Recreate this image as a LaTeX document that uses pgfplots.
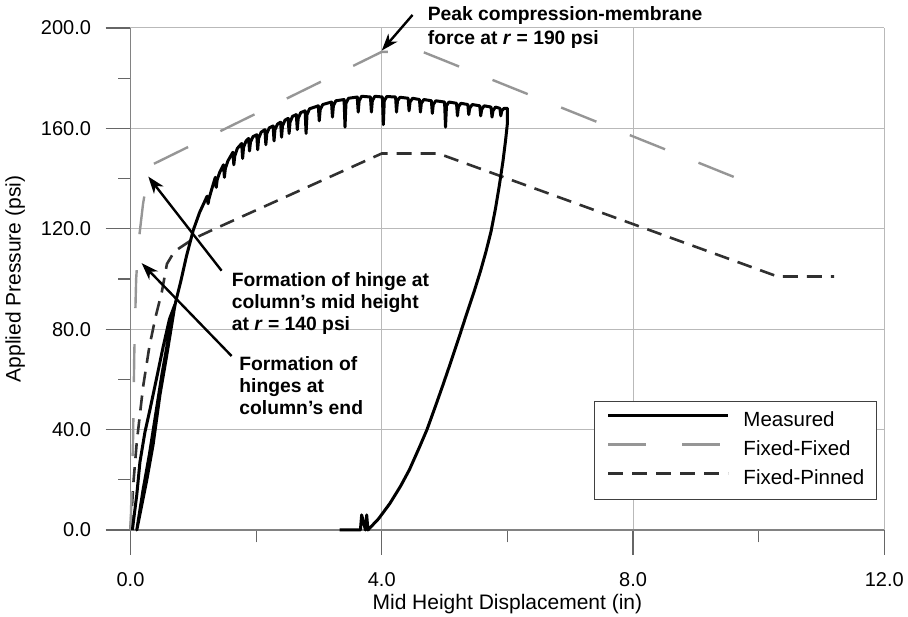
\documentclass[border=0pt]{standalone}
\usepackage{fontspec}
\setmainfont{Liberation Sans}
\usepackage{pgfplots}
\pgfplotsset{compat=1.18}
\usetikzlibrary{arrows.meta}
\definecolor{ffgray}{RGB}{150,150,150}
\definecolor{fpgray}{RGB}{48,48,48}
\definecolor{gridgray}{RGB}{185,185,185}
\definecolor{axgray}{RGB}{130,130,130}
\begin{document}
\begin{tikzpicture}
\path[use as bounding box] (-130.5pt,-87pt) rectangle (777.5pt,530pt);
\begin{axis}[
  at={(0pt,0pt)}, anchor=south west,
  scale only axis, width=753.8pt, height=502pt,
  xmin=0, xmax=12, ymin=0, ymax=200,
  axis lines=left, axis line style={-, draw=axgray, line width=1.2pt},
  xtick={0,4,8,12}, ytick={0,40,80,120,160,200},
  minor xtick={2,6,10}, minor ytick={20,60,100,140,180},
  tick align=outside, major tick length=25pt, minor tick length=12.5pt,
  tick style={draw=black!60, line width=1.2pt},
  grid=major, major grid style={draw=gridgray, line width=1pt},
  /pgf/number format/assume math mode=true,
  xticklabel style={/pgf/number format/fixed, /pgf/number format/fixed zerofill, /pgf/number format/precision=1, yshift=-14pt},
  yticklabel style={/pgf/number format/fixed, /pgf/number format/fixed zerofill, /pgf/number format/precision=1, xshift=-11pt},
  tick label style={font=\fontsize{20}{24}\selectfont, text=black},
  label style={font=\fontsize{21}{25}\selectfont},
  xlabel={Mid Height Displacement (in)},
  ylabel={Applied Pressure (psi)},
  xlabel style={at={(axis description cs:0.5,-0.147)}, anchor=center},
  ylabel style={at={(axis description cs:-0.153,0.5)}, anchor=center},
  clip=false,
  reverse legend,
  legend cell align=left,
  legend style={at={(0.99,0.06)}, anchor=south east, draw=black!75, line width=1pt, fill=white,
    font=\fontsize{20.5}{24}\selectfont, inner xsep=12pt, inner ysep=9pt, row sep=7pt,
    nodes={inner xsep=0pt, inner ysep=1pt, text height=15pt, text depth=5pt},
    /tikz/every odd column/.append style={column sep=13.7pt}},
  legend image code/.code={\draw[#1] (0pt,6pt) -- (120pt,6pt);},
]
\addplot[fpgray, line width=2.6pt, dash pattern=on 15pt off 9pt] coordinates {
(0,0) (0.05,20) (0.1,35) (0.2,57) (0.3,73) (0.4,85) (0.5,95) (0.58,106) (0.7,111) (1.0,116) (1.3,119.5) (4.0,150) (4.9,150) (10.3,101) (11.2,101)
};
\addlegendentry{Fixed-Pinned}
\addplot[ffgray, line width=2.4pt, dash pattern=on 38pt off 36pt] coordinates {
(0,0) (0.04,35) (0.06,70) (0.09,100) (0.13,115) (0.2,130) (0.3,145) (4.0,190.5) (4.65,190.5) (9.82,138.5)
};
\addlegendentry{Fixed-Fixed}
\addplot[black, line width=3pt, line join=round] coordinates {
(0.03,0) (0.1,14) (0.15,27) (0.23,39) (0.31,48) (0.42,61) (0.52,73) (0.62,84) (0.71,90)
(0.58,70) (0.47,54) (0.36,34) (0.26,20) (0.1,0)
(0.2,16) (0.3,30) (0.4,46) (0.5,62) (0.6,76) (0.72,91)
(0.8,99) (0.89,109) (1.0,119.5) (1.1,126.5) (1.22,133)
(1.235,130) (1.25,132) (1.29,135.5)
(1.35,140.5) (1.365,136.5) (1.38,139.5) (1.42,142.5)
(1.48,145.5) (1.495,140.5) (1.51,144) (1.55,147)
(1.63,150.5) (1.645,145.5) (1.66,149) (1.70,152)
(1.77,154) (1.785,148) (1.80,152.5) (1.84,155)
(1.88,156) (1.895,151) (1.91,154.5) (1.95,156.7)
(2.01,157.5) (2.025,151.5) (2.04,156) (2.08,158.5)
(2.14,159.5) (2.155,153.5) (2.17,158) (2.21,160.2)
(2.27,161) (2.285,155) (2.30,159.5) (2.34,161.7)
(2.39,162.5) (2.405,156.5) (2.42,161) (2.46,163.3)
(2.51,164) (2.525,158) (2.54,162.5) (2.58,164.8)
(2.64,165.5) (2.655,159.5) (2.67,164) (2.71,166.3)
(2.78,167) (2.795,158) (2.81,165.5) (2.85,167.8)
(2.99,169) (3.005,163) (3.02,167.5) (3.06,169.5)
(3.20,170.5) (3.215,164.5) (3.23,169) (3.27,171)
(3.40,171.5) (3.415,160.5) (3.43,170) (3.47,172)
(3.61,172.5) (3.625,166.5) (3.64,171) (3.68,172.8)
(3.82,172.5) (3.835,166.5) (3.85,171) (3.89,172.8)
(4.01,172.5) (4.025,161.5) (4.04,171) (4.08,172.7)
(4.22,172.5) (4.235,166.5) (4.25,171) (4.29,172.4)
(4.42,172) (4.435,167) (4.45,170.5) (4.49,172)
(4.60,171.5) (4.615,166.5) (4.63,170) (4.67,171.5)
(4.79,171) (4.805,166) (4.82,169.5) (4.86,171)
(5.00,170.5) (5.015,160.5) (5.03,169) (5.07,170.5)
(5.19,170) (5.205,165) (5.22,168.5) (5.26,170)
(5.37,169.5) (5.385,165.5) (5.40,168) (5.44,169.5)
(5.56,169) (5.575,165) (5.59,167.5) (5.63,169)
(5.74,168.5) (5.755,164.5) (5.77,167) (5.81,168.5)
(5.88,168) (5.895,165) (5.91,167) (5.95,168)
(6.0,168)
(6.0,162) (5.97,155) (5.93,147) (5.87,137) (5.81,128) (5.74,119) (5.66,111) (5.57,103) (5.47,95) (5.35,86) (5.22,76) (5.1,67) (4.97,57.5) (4.85,49) (4.72,40) (4.6,33) (4.44,24) (4.3,17.5) (4.13,10.6) (3.95,4.5) (3.78,0) (3.76,6) (3.74,0) (3.68,6) (3.66,0) (3.33,0)
};
\addlegendentry{Measured}
\node[anchor=west, align=left, inner sep=0pt, font=\bfseries\fontsize{19.3}{24}\selectfont] at (axis cs:4.73,200) {Peak compression-membrane\\force at \textit{r} = 190 psi};
\node[anchor=west, align=left, inner sep=0pt, font=\bfseries\fontsize{19.3}{22}\selectfont] at (axis cs:1.609,90.3) {Formation of hinge at\\column’s mid height\\at \textit{r} = 140 psi};
\node[anchor=west, align=left, inner sep=0pt, font=\bfseries\fontsize{19.3}{22}\selectfont] at (axis cs:1.73,57.4) {Formation of\\hinges at\\column’s end};
\draw[-{Stealth[length=17pt,width=12pt,inset=5pt]}, line width=2.4pt] (axis cs:4.49,205.2) -- (axis cs:4.0,191);
\draw[-{Stealth[length=17pt,width=12pt,inset=5pt]}, line width=2.4pt] (axis cs:1.45,103.3) -- (axis cs:0.283,140.8);
\draw[-{Stealth[length=17pt,width=12pt,inset=5pt]}, line width=2.4pt] (axis cs:1.61,69.3) -- (axis cs:0.178,106.3);
\end{axis}
\end{tikzpicture}
\end{document}
